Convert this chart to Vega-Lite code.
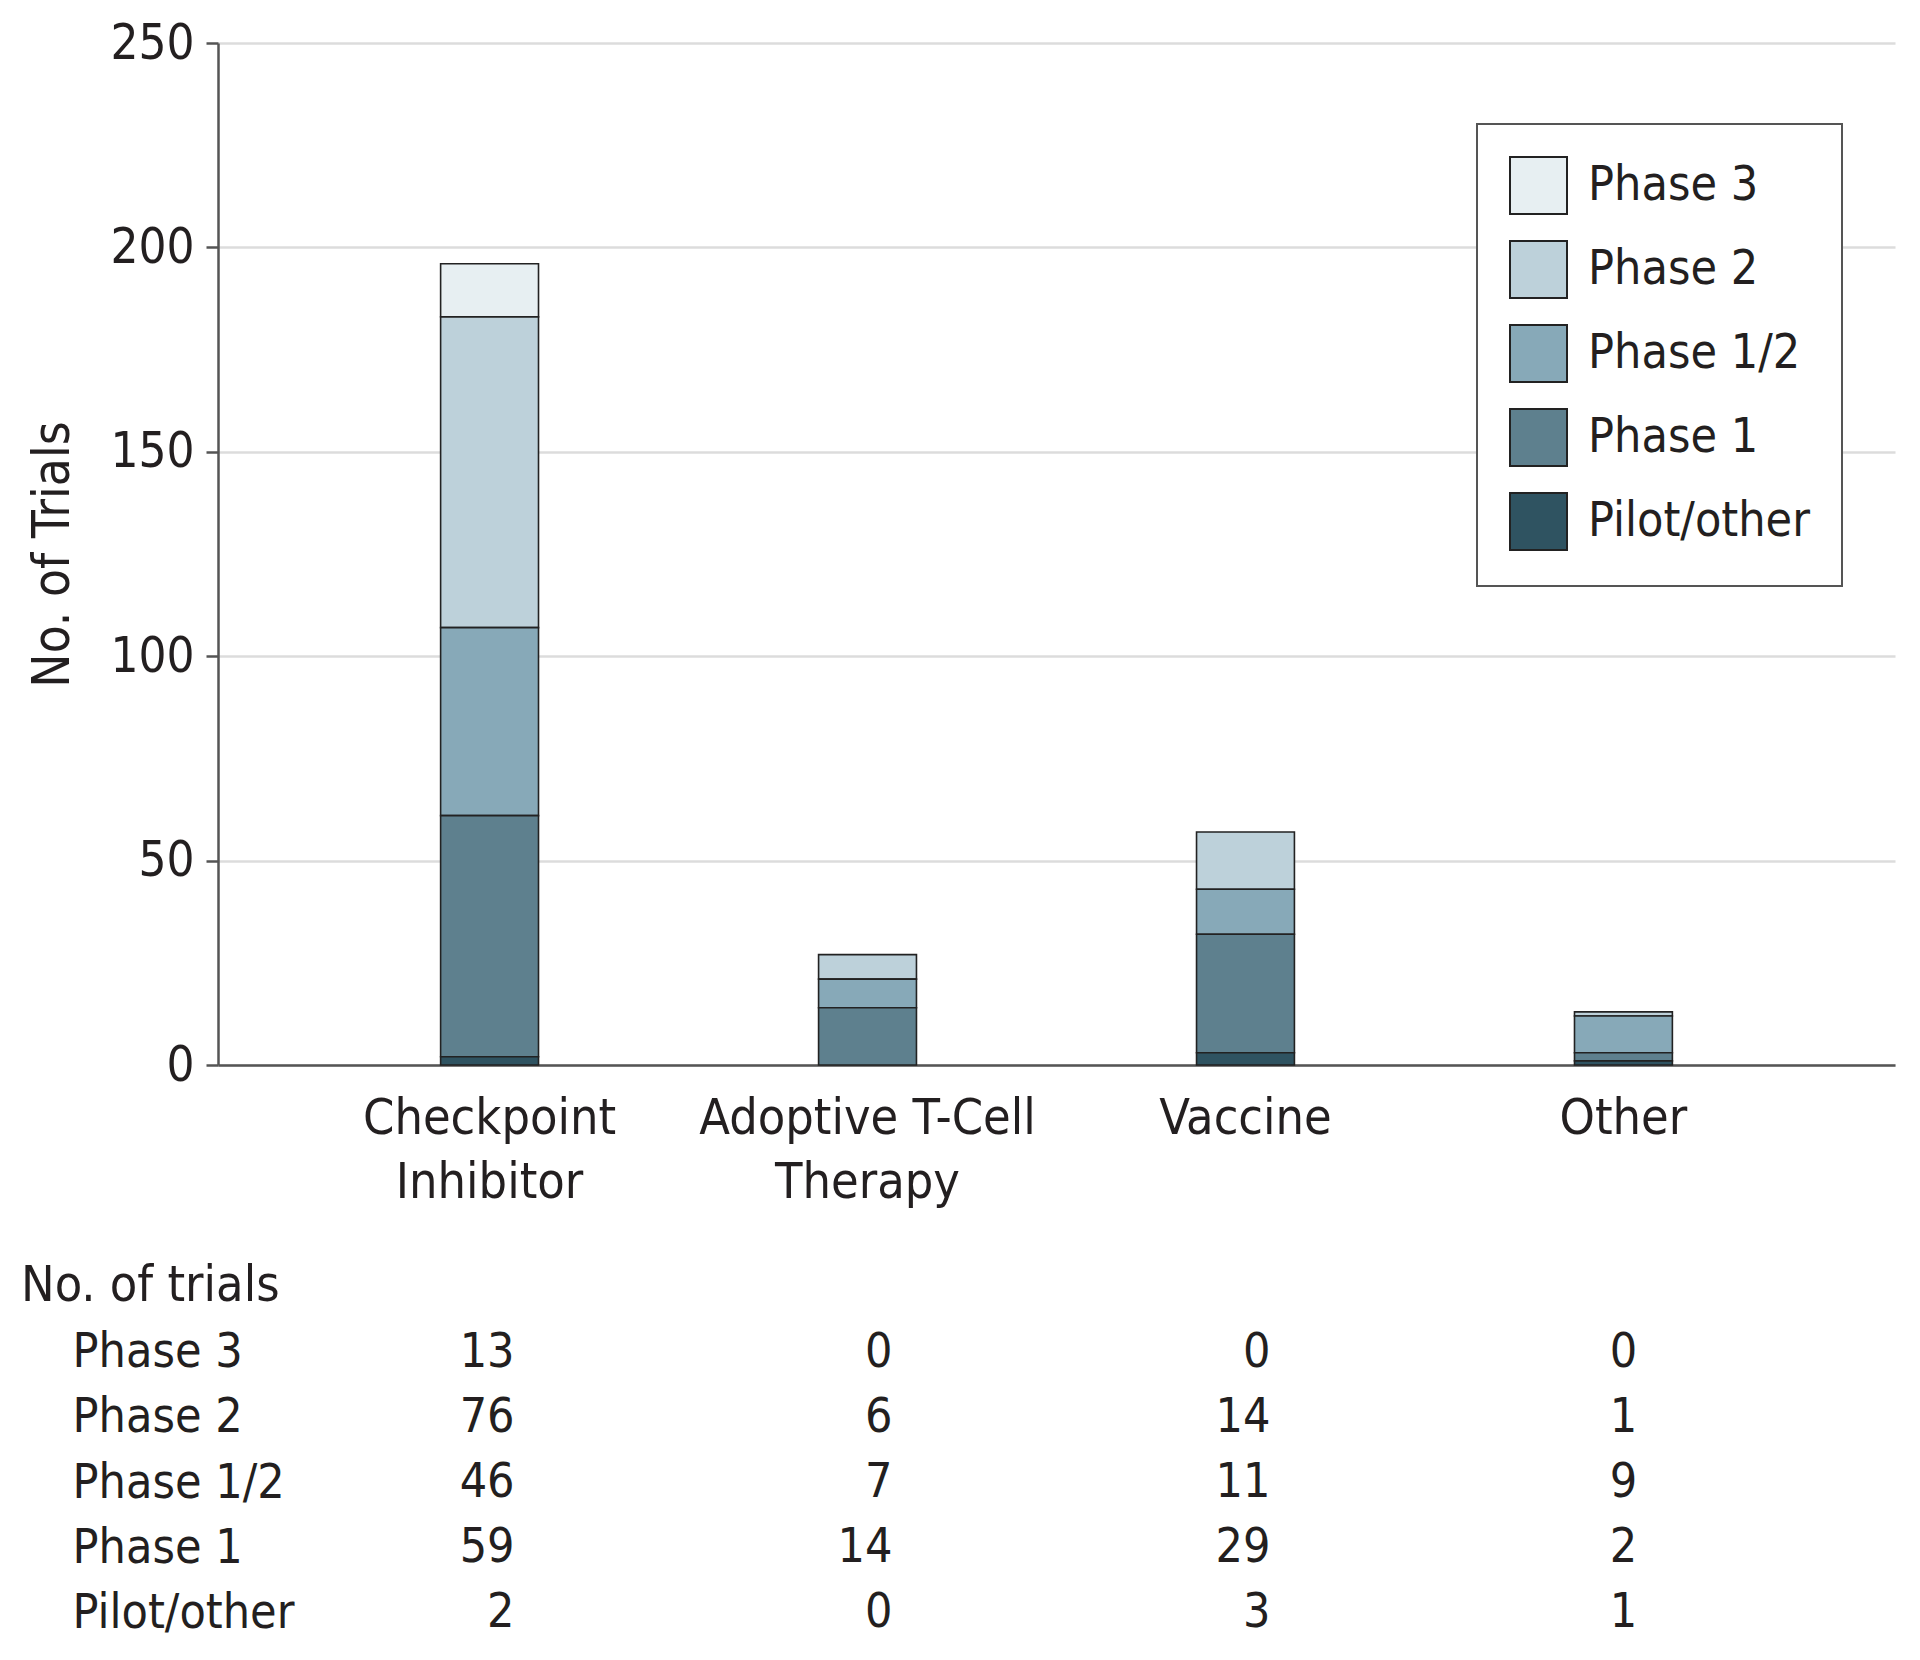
{
  "$schema": "https://vega.github.io/schema/vega-lite/v6.json",
  "background": "white",
  "padding": {"left": 21, "top": 19, "right": 25, "bottom": 10},
  "datasets": {
    "trials": [
      {"category": "Checkpoint Inhibitor", "phase": "Phase 3", "ord": 5, "n": 13},
      {"category": "Checkpoint Inhibitor", "phase": "Phase 2", "ord": 4, "n": 76},
      {"category": "Checkpoint Inhibitor", "phase": "Phase 1/2", "ord": 3, "n": 46},
      {"category": "Checkpoint Inhibitor", "phase": "Phase 1", "ord": 2, "n": 59},
      {"category": "Checkpoint Inhibitor", "phase": "Pilot/other", "ord": 1, "n": 2},
      {"category": "Adoptive T-Cell Therapy", "phase": "Phase 3", "ord": 5, "n": 0},
      {"category": "Adoptive T-Cell Therapy", "phase": "Phase 2", "ord": 4, "n": 6},
      {"category": "Adoptive T-Cell Therapy", "phase": "Phase 1/2", "ord": 3, "n": 7},
      {"category": "Adoptive T-Cell Therapy", "phase": "Phase 1", "ord": 2, "n": 14},
      {"category": "Adoptive T-Cell Therapy", "phase": "Pilot/other", "ord": 1, "n": 0},
      {"category": "Vaccine", "phase": "Phase 3", "ord": 5, "n": 0},
      {"category": "Vaccine", "phase": "Phase 2", "ord": 4, "n": 14},
      {"category": "Vaccine", "phase": "Phase 1/2", "ord": 3, "n": 11},
      {"category": "Vaccine", "phase": "Phase 1", "ord": 2, "n": 29},
      {"category": "Vaccine", "phase": "Pilot/other", "ord": 1, "n": 3},
      {"category": "Other", "phase": "Phase 3", "ord": 5, "n": 0},
      {"category": "Other", "phase": "Phase 2", "ord": 4, "n": 1},
      {"category": "Other", "phase": "Phase 1/2", "ord": 3, "n": 9},
      {"category": "Other", "phase": "Phase 1", "ord": 2, "n": 2},
      {"category": "Other", "phase": "Pilot/other", "ord": 1, "n": 1}
    ]
  },
  "config": {
    "font": "Liberation Sans Narrow, DejaVu Sans Condensed, Roboto",
    "view": {"stroke": null},
    "axis": {"labelColor": "#231f20", "titleColor": "#231f20", "labelFont": "Liberation Sans Narrow, DejaVu Sans Condensed, Roboto", "titleFont": "Liberation Sans Narrow, DejaVu Sans Condensed, Roboto", "titleFontWeight": "normal"},
    "legend": {"labelFont": "Liberation Sans Narrow, DejaVu Sans Condensed, Roboto", "strokeWidth": 2},
    "title": {"font": "Liberation Sans Narrow, DejaVu Sans Condensed, Roboto"}
  },
  "vconcat": [
    {
      "width": 1677,
      "height": 1022,
      "data": {"name": "trials"},
      "transform": [{"filter": "datum.n > 0"}],
      "mark": {"type": "bar", "stroke": "#222222", "strokeWidth": 1.6},
      "encoding": {
        "x": {
          "field": "category",
          "type": "nominal",
          "sort": ["Checkpoint Inhibitor", "Adoptive T-Cell Therapy", "Vaccine", "Other"],
          "scale": {"type": "band", "domain": ["Checkpoint Inhibitor", "Adoptive T-Cell Therapy", "Vaccine", "Other"], "paddingInner": 0.741, "paddingOuter": 0.589},
          "axis": {
            "title": null,
            "labelAngle": 0,
            "labelFontSize": 50,
            "labelPadding": 28,
            "labelLineHeight": 64,
            "labelBaseline": "top",
            "labelLimit": 600,
            "ticks": false,
            "domainColor": "#555555",
            "domainWidth": 2.5,
            "labelExpr": "datum.value == 'Checkpoint Inhibitor' ? ['Checkpoint', 'Inhibitor'] : datum.value == 'Adoptive T-Cell Therapy' ? ['Adoptive T-Cell', 'Therapy'] : datum.value"
          }
        },
        "y": {
          "field": "n",
          "type": "quantitative",
          "stack": "zero",
          "scale": {"domain": [0, 250], "nice": false},
          "axis": {
            "title": "No. of Trials",
            "titleFontSize": 51,
            "titlePadding": 30,
            "values": [0, 50, 100, 150, 200, 250],
            "labelFontSize": 49,
            "labelPadding": 12,
            "tickSize": 12,
            "tickColor": "#555555",
            "tickWidth": 2.5,
            "domainColor": "#555555",
            "domainWidth": 2.5,
            "gridColor": "#dcdcdc",
            "gridWidth": 2.5
          }
        },
        "color": {
          "field": "phase",
          "type": "nominal",
          "scale": {
            "domain": ["Phase 3", "Phase 2", "Phase 1/2", "Phase 1", "Pilot/other"],
            "range": ["#e7eff2", "#bdd1da", "#87a9b8", "#5e808e", "#2f5361"]
          },
          "legend": {
            "title": null,
            "orient": "none",
            "legendX": 1259,
            "legendY": 81,
            "symbolType": "square",
            "symbolSize": 3249,
            "symbolStrokeColor": "#222222",
            "symbolStrokeWidth": 2,
            "labelFontSize": 48,
            "labelColor": "#231f20",
            "labelOffset": 20,
            "rowPadding": 19,
            "padding": 32,
            "strokeColor": "#555555",
            "fillColor": "white",
            "labelLimit": 400
          }
        },
        "order": {"field": "ord", "type": "quantitative"}
      }
    },
    {
      "width": 1677,
      "height": 326,
      "data": {"name": "trials"},
      "title": {
        "text": "No. of trials",
        "anchor": "start",
        "frame": "group",
        "fontSize": 50,
        "fontWeight": "normal",
        "color": "#231f20",
        "dx": -197,
        "offset": 9
      },
      "encoding": {
        "x": {
          "field": "category",
          "type": "nominal",
          "scale": {"type": "band", "domain": ["Checkpoint Inhibitor", "Adoptive T-Cell Therapy", "Vaccine", "Other"], "paddingInner": 0.741, "paddingOuter": 0.589},
          "axis": null
        },
        "y": {
          "field": "phase",
          "type": "nominal",
          "scale": {"type": "point", "padding": 0.5, "domain": ["Phase 3", "Phase 2", "Phase 1/2", "Phase 1", "Pilot/other"]},
          "axis": {
            "title": null,
            "domain": false,
            "ticks": false,
            "tickSize": 0,
            "grid": false,
            "labelAlign": "left",
            "labelPadding": 146,
            "labelFontSize": 48,
            "labelLimit": 400
          }
        },
        "text": {"field": "n", "type": "quantitative"}
      },
      "layer": [
        {
          "transform": [{"filter": "datum.category != 'Other'"}],
          "mark": {"type": "text", "align": "right", "baseline": "middle", "dx": 25, "fontSize": 48, "color": "#231f20"}
        },
        {
          "transform": [{"filter": "datum.category == 'Other'"}],
          "mark": {"type": "text", "align": "center", "baseline": "middle", "dx": 0, "fontSize": 48, "color": "#231f20"}
        }
      ]
    }
  ],
  "spacing": 255,
  "bounds": "flush"
}
